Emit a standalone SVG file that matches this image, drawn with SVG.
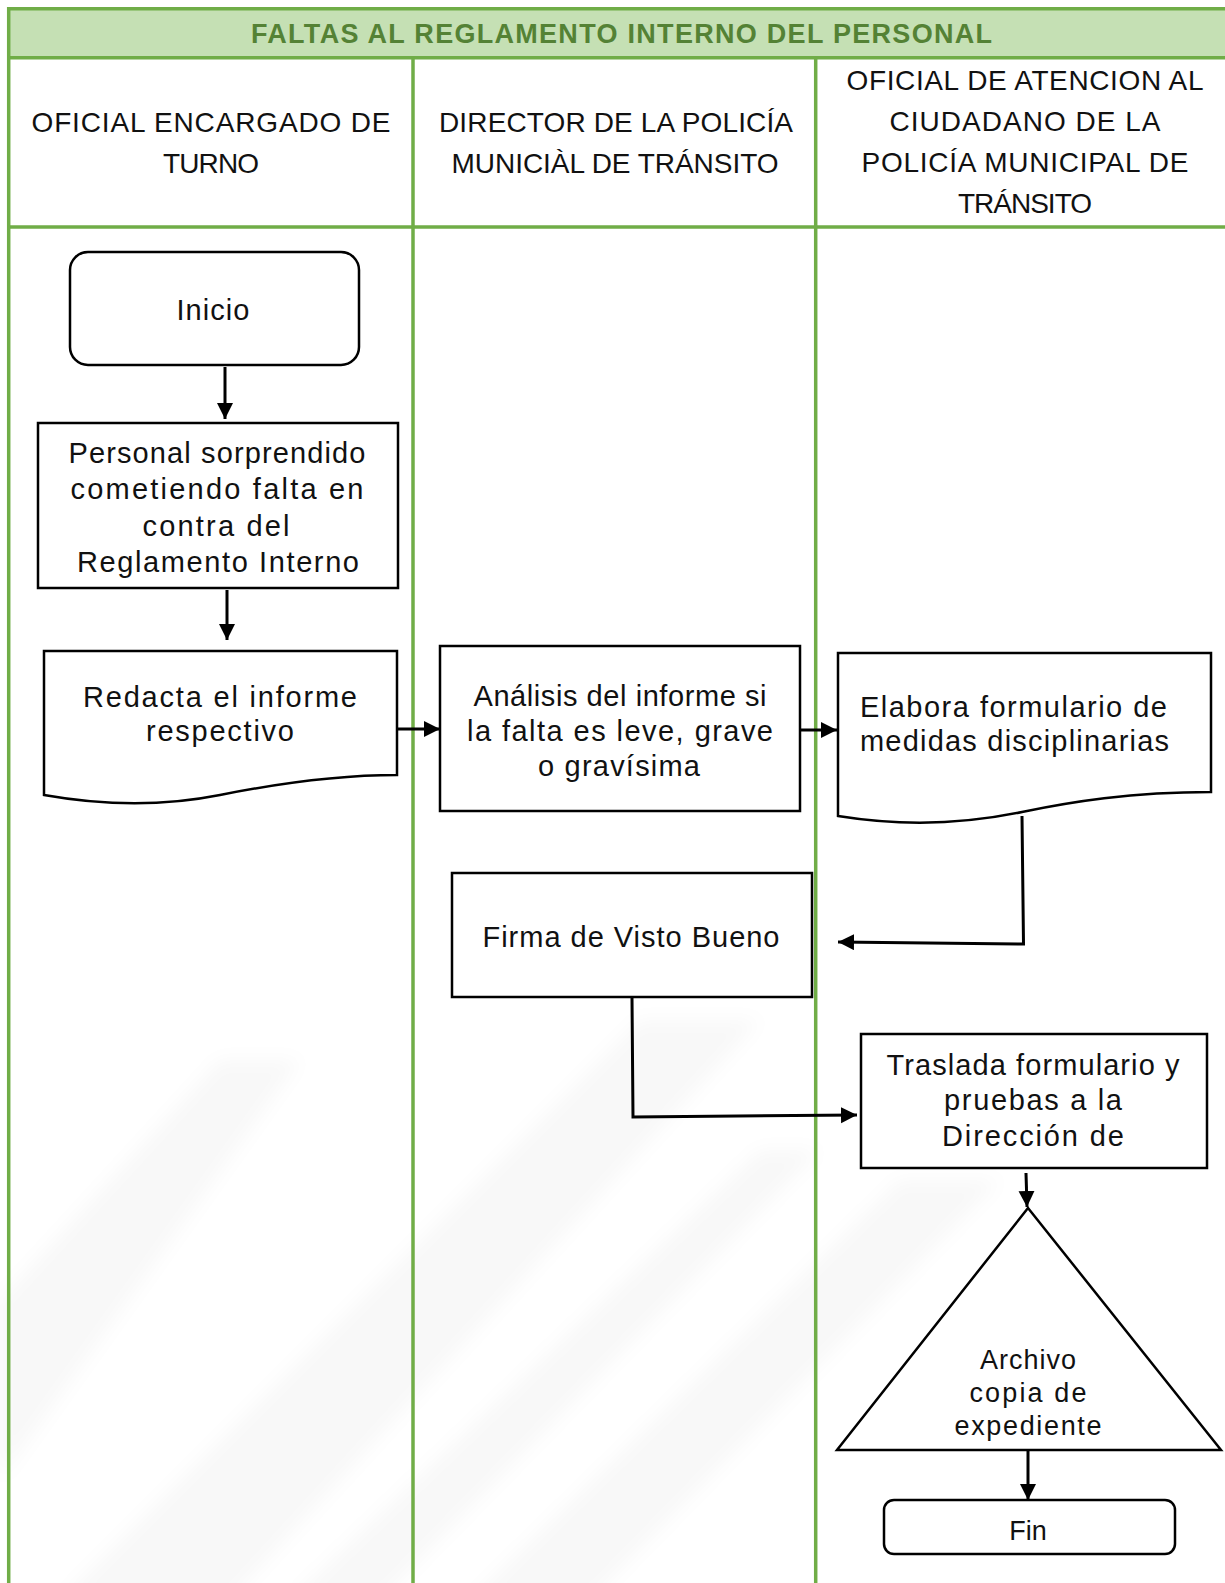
<svg xmlns="http://www.w3.org/2000/svg" width="1225" height="1583" viewBox="0 0 1225 1583">
  <style>
    .lane { stroke: #70AD47; stroke-width: 3.5; fill: none; }
    .title { font-family: "Liberation Sans", Arial, sans-serif; font-weight: bold; font-size: 27px; fill: #548235; }
    .head { font-family: "Liberation Sans", Arial, sans-serif; font-size: 28px; fill: #111; text-anchor: middle; }
    .txt { font-family: "Liberation Sans", Arial, sans-serif; font-size: 29px; fill: #111; text-anchor: middle; }
    .start { text-anchor: start; }
    .small { font-size: 27px; }
    .shape { fill: #fff; stroke: #000; stroke-width: 2.5; }
    .conn { fill: none; stroke: #000; stroke-width: 3; }
    .sheen { fill: #000; fill-opacity: 0.028; filter: url(#soft); }
  </style>
  <defs>
    <marker id="arrow" markerUnits="userSpaceOnUse" markerWidth="18" markerHeight="18" refX="16" refY="8" orient="auto">
      <path d="M0,0 L16,8 L0,16 Z" fill="#000"/>
    </marker>
    <filter id="soft" x="-20%" y="-20%" width="140%" height="140%">
      <feGaussianBlur stdDeviation="9"/>
    </filter>
  </defs>

  <!-- page background with faint diagonal sheen -->
  <rect x="0" y="0" width="1225" height="1583" fill="#fff"/>
  <g id="sheen">
    <polygon class="sheen" points="60,1600 230,1600 760,1020 640,1020"/>
    <polygon class="sheen" points="290,1600 380,1600 820,1150 760,1150"/>
    <polygon class="sheen" points="0,1480 0,1300 220,1060 300,1060"/>
    <polygon class="sheen" points="470,1600 590,1600 1000,1180 900,1180"/>
  </g>

  <!-- swimlane table -->
  <g id="table">
    <rect x="9" y="8.7" width="1216" height="49" fill="#C5E0B4"/>
    <line class="lane" x1="7" y1="8.7" x2="1225" y2="8.7"/>
    <line class="lane" x1="7" y1="57.7" x2="1225" y2="57.7"/>
    <line class="lane" x1="7" y1="227" x2="1225" y2="227"/>
    <line class="lane" x1="8.7" y1="7" x2="8.7" y2="1583"/>
    <line class="lane" x1="413" y1="57.7" x2="413" y2="1583"/>
    <line class="lane" x1="815.7" y1="57.7" x2="815.7" y2="1583"/>
    <text class="title" x="251" y="43" textLength="741">FALTAS AL REGLAMENTO INTERNO DEL PERSONAL</text>
  </g>

  <g id="lane-headers">
    <text class="head" x="211" y="132" textLength="359">OFICIAL ENCARGADO DE</text>
    <text class="head" x="211" y="173" textLength="96">TURNO</text>
    <text class="head" x="616" y="132" textLength="354">DIRECTOR DE LA POLICÍA</text>
    <text class="head" x="615" y="173" textLength="327">MUNICIÀL DE TRÁNSITO</text>
    <text class="head" x="1025" y="90" textLength="357">OFICIAL DE ATENCION AL</text>
    <text class="head" x="1025" y="131" textLength="271">CIUDADANO DE LA</text>
    <text class="head" x="1025" y="172" textLength="327">POLICÍA MUNICIPAL DE</text>
    <text class="head" x="1025" y="213" textLength="134">TRÁNSITO</text>
  </g>

  <!-- connectors -->
  <g id="connectors">
    <line class="conn" x1="225" y1="367" x2="225" y2="419" marker-end="url(#arrow)"/>
    <line class="conn" x1="227" y1="590" x2="227" y2="640" marker-end="url(#arrow)"/>
    <line class="conn" x1="397" y1="729" x2="440" y2="729" marker-end="url(#arrow)"/>
    <line class="conn" x1="800" y1="730" x2="837" y2="730" marker-end="url(#arrow)"/>
    <polyline class="conn" points="1022,816 1023.5,944 838,942" marker-end="url(#arrow)"/>
    <polyline class="conn" points="632,998 633,1117 857,1115" marker-end="url(#arrow)"/>
    <line class="conn" x1="1026" y1="1173" x2="1027" y2="1207" marker-end="url(#arrow)"/>
    <line class="conn" x1="1028" y1="1451" x2="1028" y2="1500" marker-end="url(#arrow)"/>
  </g>

  <!-- nodes -->
  <g id="inicio">
    <rect class="shape" x="70" y="252" width="289" height="113" rx="18"/>
    <text class="txt" x="213" y="320" textLength="73">Inicio</text>
  </g>

  <g id="personal-sorprendido">
    <rect class="shape" x="38" y="423" width="360" height="165"/>
    <text class="txt" x="217" y="463" textLength="297">Personal sorprendido</text>
    <text class="txt" x="217" y="499" textLength="293">cometiendo falta en</text>
    <text class="txt" x="216" y="536" textLength="147">contra del</text>
    <text class="txt" x="218" y="572" textLength="282">Reglamento Interno</text>
  </g>

  <g id="redacta-informe">
    <path class="shape" d="M44,651 H397 V775 C330,775 270,785 220,795 C160,807 100,805 44,795 Z"/>
    <text class="txt" x="220" y="707" textLength="274">Redacta el informe</text>
    <text class="txt" x="220" y="741" textLength="148">respectivo</text>
  </g>

  <g id="analisis-informe">
    <rect class="shape" x="440" y="646" width="360" height="165"/>
    <text class="txt" x="620" y="706" textLength="293">Análisis del informe si</text>
    <text class="txt" x="620" y="741" textLength="306">la falta es leve, grave</text>
    <text class="txt" x="619" y="776" textLength="162">o gravísima</text>
  </g>

  <g id="elabora-formulario">
    <path class="shape" d="M838,653 H1211 V792 C1130,792 1070,802 1022,812 C960,825 900,826 838,816 Z"/>
    <text class="txt start" x="860" y="717" textLength="307">Elabora formulario de</text>
    <text class="txt start" x="860" y="751" textLength="309">medidas disciplinarias</text>
  </g>

  <g id="firma-visto-bueno">
    <rect class="shape" x="452" y="873" width="360" height="124"/>
    <text class="txt" x="631" y="947" textLength="297">Firma de Visto Bueno</text>
  </g>

  <g id="traslada-formulario">
    <rect class="shape" x="861" y="1034" width="346" height="134"/>
    <text class="txt" x="1033" y="1075" textLength="293">Traslada formulario y</text>
    <text class="txt" x="1033" y="1110" textLength="178">pruebas a la</text>
    <text class="txt" x="1033" y="1146" textLength="182">Dirección de</text>
  </g>

  <g id="archivo-expediente">
    <polygon class="shape" points="1028,1208 1221,1450 837,1450"/>
    <text class="txt small" x="1028" y="1369" textLength="96">Archivo</text>
    <text class="txt small" x="1028" y="1402" textLength="117">copia de</text>
    <text class="txt small" x="1028" y="1435" textLength="147">expediente</text>
  </g>

  <g id="fin">
    <rect class="shape" x="884" y="1500" width="291" height="54" rx="10"/>
    <text class="txt small" x="1028" y="1540">Fin</text>
  </g>
</svg>
